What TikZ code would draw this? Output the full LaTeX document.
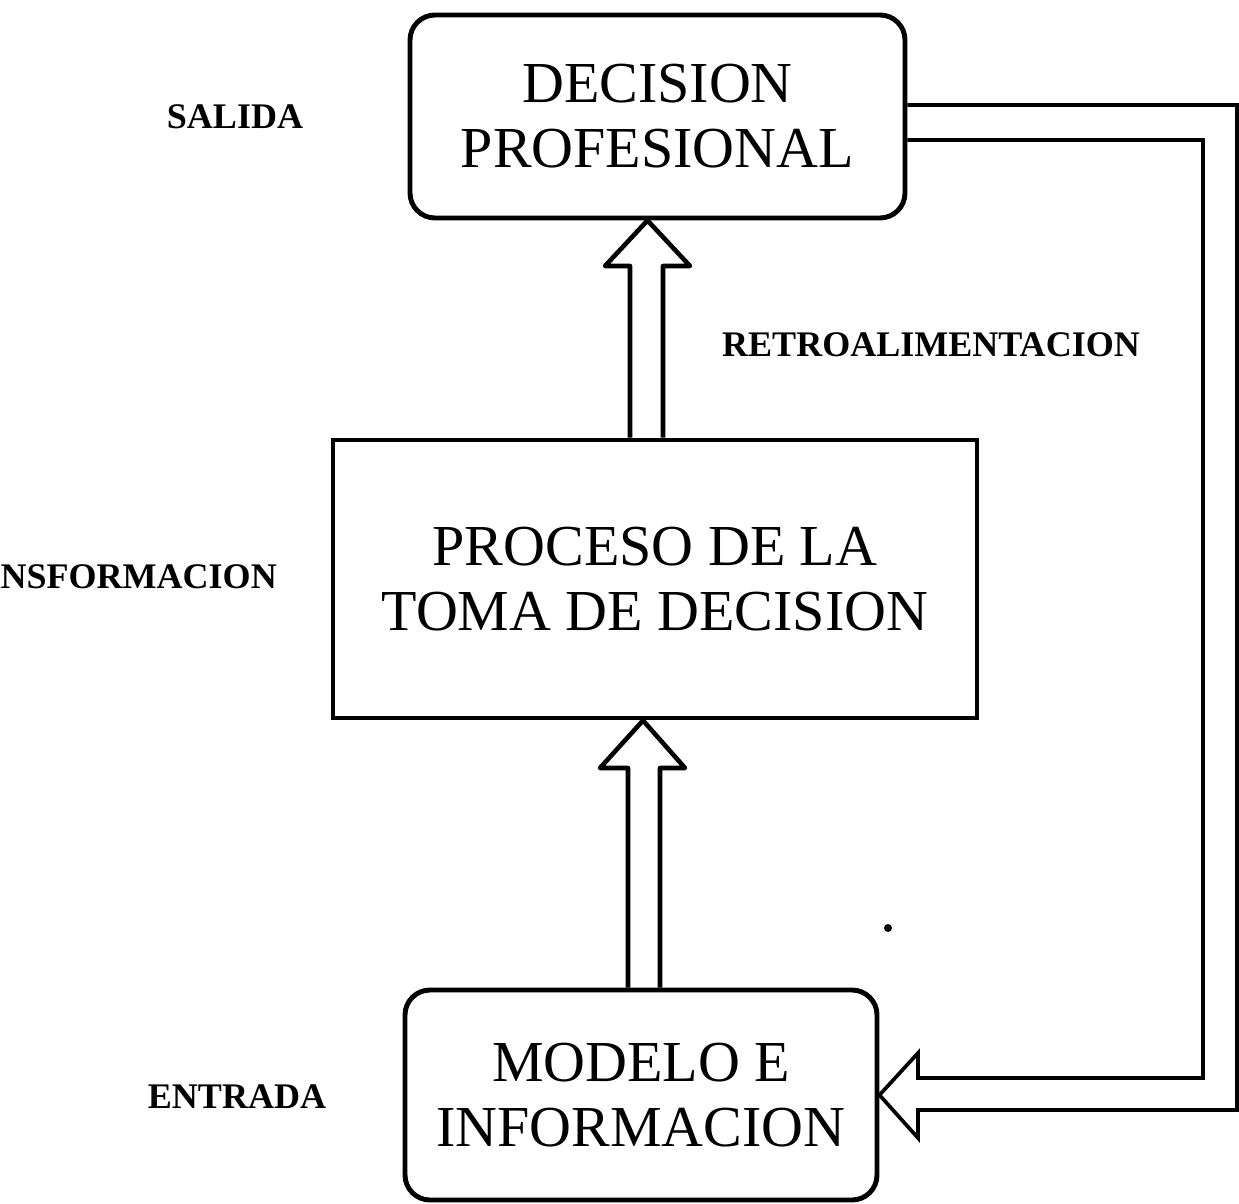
\documentclass[tikz,border=0pt]{standalone}
\usepackage{fontspec}
\setmainfont{Liberation Serif}

\tikzset{
	box/.style={draw, line width=2.8pt, align=center, inner sep=0pt,
		font=\fontsize{33}{37}\selectfont},
	roundbox/.style={box, rounded corners=0.5cm},
	hollow/.style={line width=2.6pt, line join=round},
	feedline/.style={line width=2.1pt, line join=miter},
	sidetext/.style={font=\bfseries\fontsize{20.5}{24}\selectfont}
}

\begin{document}
\begin{tikzpicture}

	%page frame
	\clip (0,0) rectangle (24.78,24.06);

	%The three stages
	\node[roundbox, minimum width=9.9cm, minimum height=4.06cm] (dec) at (13.15,21.73) {DECISION\\PROFESIONAL};
	\node[box, minimum width=12.88cm, minimum height=5.56cm] (proc) at (13.1,12.48) {PROCESO DE LA\\TOMA DE DECISION};
	\node[roundbox, minimum width=9.44cm, minimum height=4.2cm] (model) at (12.82,2.16) {MODELO E\\INFORMACION};

	%side texts
	\node[sidetext] (salida) at (4.7,21.72) {SALIDA};
	\node[sidetext, anchor=east] (transf) at (5.66,12.52) {TRANSFORMACION};
	\node[sidetext] (entrada) at (4.74,2.12) {ENTRADA};
	\node[sidetext] (retro) at (18.62,17.16) {RETROALIMENTACION};

	%hollow arrows upwards
	\draw[hollow] (12.6,0 |- proc.north) -- (12.6,18.74) -- (12.1,18.74) -- (12.95,0 |- dec.south)
		-- (13.8,18.74) -- (13.26,18.74) -- (13.26,0 |- proc.north);
	\draw[hollow] (12.56,0 |- model.north) -- (12.56,8.7) -- (12.0,8.7) -- (12.86,0 |- proc.south)
		-- (13.7,8.7) -- (13.2,8.7) -- (13.2,0 |- model.north);

	%feedback loop back to the input
	\draw[feedline] (dec.east |- 0,21.96) -- (24.74,21.96) -- (24.74,1.86) -- (18.36,1.86) -- (18.36,1.3)
		-- (model.east |- 0,2.16) -- (18.36,3.0) -- (18.36,2.5) -- (24.06,2.5) -- (24.06,21.26) -- (dec.east |- 0,21.26);

	\fill (17.76,5.5) circle (0.08);

\end{tikzpicture}
\end{document}
